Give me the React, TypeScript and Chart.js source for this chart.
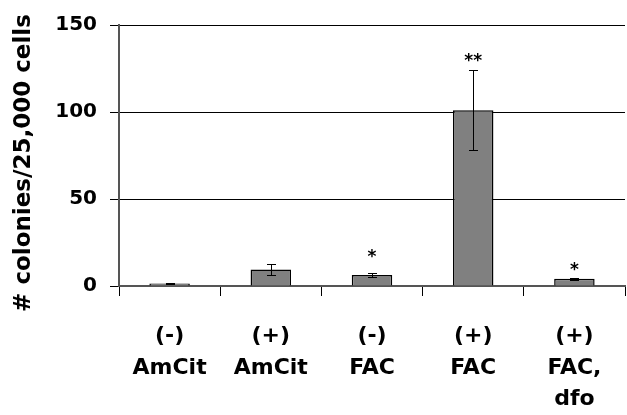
import React, { useEffect, useRef } from "react";
import { Chart, registerables } from "chart.js";

Chart.register(...registerables);

const categories: string[][] = [
  ["(-)", "AmCit"],
  ["(+)", "AmCit"],
  ["(-)", "FAC"],
  ["(+)", "FAC"],
  ["(+)", "FAC,", "dfo"],
];
const means = [1.5, 9.5, 6.3, 101, 4.2];
const errors = [0.4, 3.0, 1.3, 23, 0.6];
const sigMarks = ["", "", "*", "**", "*"];
const sigLevels = [0, 0, 19.5, 132, 12];
const yTicks = [0, 50, 100, 150];
const yTitle = "# colonies/25,000 cells";

const FONT = '"DejaVu Sans", sans-serif';

const errorBarPlugin = {
  id: "errorBars",
  afterDatasetsDraw(chart: any) {
    const ctx = chart.ctx as CanvasRenderingContext2D;
    const meta = chart.getDatasetMeta(0);
    const y = chart.scales.y;
    ctx.save();
    ctx.strokeStyle = "#000";
    ctx.fillStyle = "#000";
    ctx.lineWidth = 1;
    meta.data.forEach((bar: any, i: number) => {
      const x = Math.round(bar.x) + 0.5;
      const top = Math.round(y.getPixelForValue(means[i] + errors[i])) + 0.5;
      const bot = Math.round(y.getPixelForValue(means[i] - errors[i])) + 0.5;
      ctx.beginPath();
      ctx.moveTo(x, top);
      ctx.lineTo(x, bot);
      ctx.moveTo(x - 4.5, top);
      ctx.lineTo(x + 4.5, top);
      ctx.moveTo(x - 4.5, bot);
      ctx.lineTo(x + 4.5, bot);
      ctx.stroke();
      if (sigMarks[i]) {
        ctx.font = `bold 17px ${FONT}`;
        ctx.textAlign = "center";
        ctx.textBaseline = "alphabetic";
        ctx.fillText(sigMarks[i], bar.x, y.getPixelForValue(sigLevels[i]) + 10);
      }
    });
    ctx.restore();
  },
};

const yTitlePlugin = {
  id: "yTitle",
  afterDraw(chart: any) {
    const ctx = chart.ctx as CanvasRenderingContext2D;
    ctx.save();
    ctx.translate(24, 163);
    ctx.rotate(-Math.PI / 2);
    ctx.font = `bold 23px ${FONT}`;
    ctx.fillStyle = "#000";
    ctx.textAlign = "center";
    ctx.textBaseline = "middle";
    ctx.fillText(yTitle, 0, 0);
    ctx.restore();
  },
};

export default function App() {
  const ref = useRef<HTMLCanvasElement | null>(null);

  useEffect(() => {
    if (!ref.current) return;
    const chart = new Chart(ref.current, {
      type: "bar",
      data: {
        labels: categories,
        datasets: [
          {
            data: means,
            backgroundColor: "#808080",
            borderColor: "#000",
            borderWidth: 1.5,
            barPercentage: 0.4,
            categoryPercentage: 1,
          },
        ],
      },
      options: {
        responsive: false,
        animation: false,
        layout: { padding: { top: 24, right: 2, left: 0, bottom: 0 } },
        plugins: {
          legend: { display: false },
          tooltip: { enabled: false },
        },
        scales: {
          x: {
            grid: {
              display: true,
              drawOnChartArea: false,
              offset: true,
              tickLength: 10,
              color: "#000",
              lineWidth: 1,
            },
            border: { display: true, color: "#555", width: 2 },
            ticks: {
              color: "#000",
              padding: 25,
              maxRotation: 0,
              autoSkip: false,
              font: { family: FONT, size: 22, weight: "bold", lineHeight: 1.43 },
            },
            afterFit: (s: any) => {
              s.height = 129;
            },
          },
          y: {
            min: 0,
            max: 150,
            afterBuildTicks: (s: any) => {
              s.ticks = yTicks.map((v) => ({ value: v }));
            },
            grid: {
              color: "#000",
              lineWidth: 1,
              tickLength: 9,
            },
            border: { display: true, color: "#555", width: 2 },
            ticks: {
              color: "#000",
              padding: 13,
              font: { family: FONT, size: 20, weight: "bold" },
            },
            title: { display: false },
            afterFit: (s: any) => {
              s.width = 119;
            },
          },
        },
      },
      plugins: [errorBarPlugin, yTitlePlugin],
    });
    return () => chart.destroy();
  }, []);

  return (
    <canvas
      ref={ref}
      width={627}
      height={415}
      style={{ position: "fixed", left: 0, top: 0, display: "block" }}
    />
  );
}
